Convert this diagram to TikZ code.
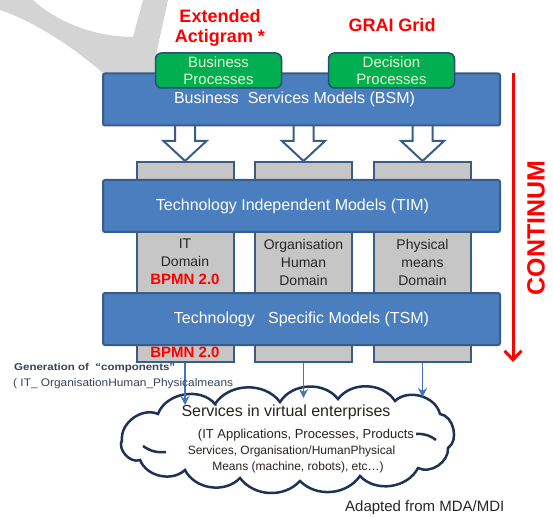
\documentclass[tikz,border=0pt]{standalone}
\usepackage{fontspec}
\setmainfont{Liberation Sans}
\usetikzlibrary{arrows.meta,calc}

\definecolor{boxblue}{RGB}{74,126,190}
\definecolor{boxedge}{RGB}{56,93,138}
\definecolor{colgrey}{RGB}{198,198,198}
\definecolor{procgreen}{RGB}{0,176,80}
\definecolor{procedge}{RGB}{35,80,120}
\definecolor{proctext}{RGB}{240,245,215}
\definecolor{swoosh}{RGB}{212,212,212}
\definecolor{linkblue}{RGB}{68,114,196}
\definecolor{cloudedge}{RGB}{30,50,85}
\definecolor{notetext}{RGB}{55,65,85}
\definecolor{cloudtext}{RGB}{40,35,30}
\definecolor{titlered}{RGB}{255,0,0}

\newcommand\fsz[2]{\fontsize{#1}{#2}\selectfont}

\begin{document}
\begin{tikzpicture}[x=1pt,y=-1pt,
  layerbox/.style={draw=boxedge, line width=2pt, fill=boxblue, rounded corners=2pt,
    minimum width=397pt, minimum height=52pt, inner sep=0pt, text=white, font=\fsz{16}{19}},
  column/.style={draw=boxedge, line width=2pt, fill=colgrey, minimum width=97pt,
    minimum height=200pt, inner sep=0pt, align=center, text=black!85, font=\fsz{14}{18}},
  proc/.style={draw=procedge, line width=1.5pt, fill=procgreen, rounded corners=6pt,
    minimum width=126pt, minimum height=35pt, inner sep=0pt, align=center,
    text=proctext, font=\fsz{15}{17}},
  hollow/.style={draw=boxedge, line width=2pt, fill=white, line join=miter},
  feed/.style={draw=linkblue, line width=1.5pt, -{Stealth[length=9pt,width=9pt]}},
  redtitle/.style={text=titlered, font=\bfseries\fsz{18}{19.5}, align=center},
  redtag/.style={text=titlered, font=\bfseries\fsz{15}{18}},
  cloudline/.style={draw=cloudedge, line width=2.5pt},
]
\useasboundingbox (0,0) rectangle (553,518);

% grey swoosh in the upper left corner
\fill[swoosh] (0,0) -- (33,0) .. controls (60,25) and (100,37) .. (133,37)
  -- (143,0) -- (168,0) -- (155,60) -- (155,73) -- (103,73)
  .. controls (70,45) and (35,22) .. (0,10) -- cycle;

% domain columns
\node[column] (g1) at (185,262) {IT\\Domain\\{\color{titlered}\bfseries\fsz{15}{18}BPMN 2.0}};
\node[column] (g2) at (303.5,262) {Organisation\\Human\\Domain};
\node[column] (g3) at (422.5,262) {Physical\\means\\Domain};

% hollow arrows from BSM into the columns
\foreach \g in {g1,g2,g3}{
  \draw[hollow] (\g.north) -- ++(-21.5,-20) -- ++(11.5,0) -- ++(0,-25) -- ++(20,0)
    -- ++(0,25) -- ++(11.5,0) -- cycle;
}

% model layers
\node[layerbox] (bsm) at (301.5,99.5) {\hspace*{-14pt}Business\ \ Services Models (BSM)};
\node[layerbox] (tim) at (301.5,206) {\hspace*{-18pt}Technology Independent Models (TIM)};
\node[layerbox] (tsm) at (301.5,319) {Technology\ \ \ Specific Models (TSM)};

% process boxes on top of BSM
\node[proc] (bp) at (218.5,70.5) {Business\\Processes};
\node[proc] (dp) at (391.5,70.5) {Decision\\Processes};

\node[redtitle] (ext) at (220,28) {Extended\\Actigram *};
\node[redtitle] (grai) at (392,25) {GRAI Grid};

\node[redtag] (bpmn) at (185,352) {BPMN 2.0};

% continuum arrow
\coordinate (ctop) at (513,73);
\coordinate (cbot) at (513,362);
\draw[titlered, line width=3pt, -{Straight Barb[length=9pt,width=17pt,line width=3pt]}] (ctop) -- (cbot);
\node[rotate=90, text=titlered, font=\bfseries\fsz{25}{28}] (cont) at (536,228) {CONTINUM};

% cloud of services
\draw[cloudline, fill=white] (122,440) to[bend left=60] (158,414) to[bend left=60] (215,404)
  to[bend left=55] (280,402) to[bend left=55] (338,399) to[bend left=55] (395,401)
  to[bend left=60] (440,414) to[bend left=70] (448,448) to[bend left=60] (418,468)
  to[bend left=55] (360,476) to[bend left=50] (300,481) to[bend left=50] (240,478)
  to[bend left=55] (185,470) to[bend left=55] (140,460) to[bend left=70] (122,440) -- cycle;
\draw[cloudline] (143,446) to[bend right=20] (166,452);
\draw[cloudline] (416,434) to[bend left=20] (436,440);

% generation arrows into the cloud
\coordinate (in1) at (186,405);
\coordinate (in2) at (304,398);
\coordinate (in3) at (423,397);
\draw[feed] (g1.south) -- (g1.south |- in1);
\draw[feed] (g2.south) -- (g2.south |- in2);
\draw[feed] (g3.south) -- (g3.south |- in3);

\node[anchor=west, inner sep=0pt, xscale=1.15, text=notetext, font=\bfseries\fsz{10}{12}] (gen) at (14,368) {Generation of\ \ “components”};
\node[anchor=west, inner sep=0pt, xscale=1.08, text=notetext, font=\fsz{11}{13}] (gen2) at (13,384) {( IT\_ OrganisationHuman\_Physicalmeans};

\node[text=cloudtext, font=\fsz{16}{19}] (svc) at (286,412) {Services in virtual enterprises};
\node[text=cloudtext, font=\fsz{13}{16}] (svc1) at (306,435) {(IT Applications, Processes, Products};
\node[text=cloudtext, font=\fsz{12}{16}] (svc2) at (291.5,451) {Services, Organisation/HumanPhysical};
\node[text=cloudtext, font=\fsz{12}{16}] (svc3) at (298,467) {Means (machine, robots), etc…)};

\node[anchor=west, inner sep=0pt, text=black!85, font=\fsz{15}{18}] (src) at (345,508) {Adapted from MDA/MDI};
\end{tikzpicture}
\end{document}
